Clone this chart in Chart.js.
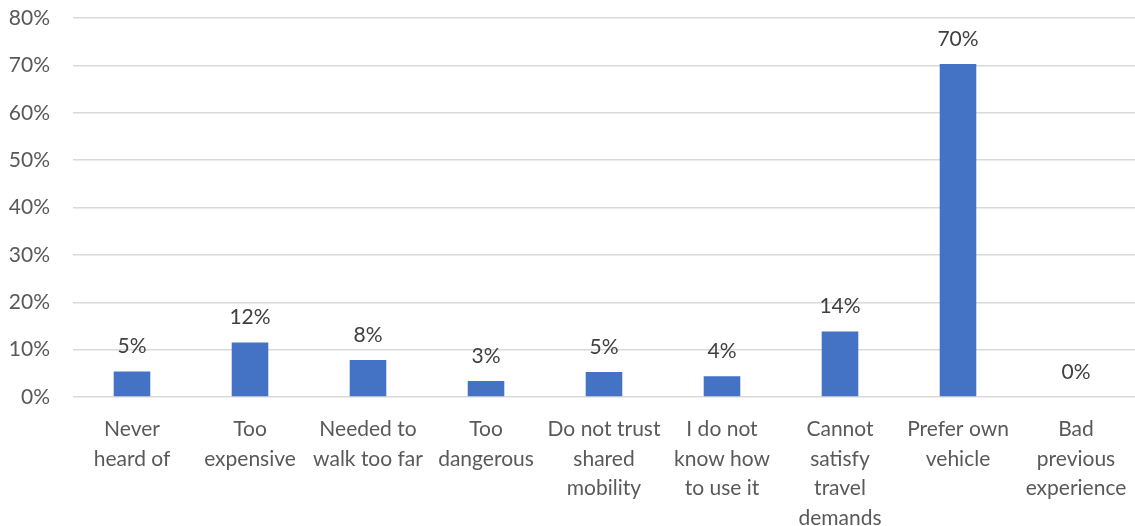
<!DOCTYPE html>
<html>
<head>
<meta charset="utf-8">
<script src="https://cdn.jsdelivr.net/npm/chart.js@4"></script>
<style>
  html, body { margin: 0; padding: 0; background: #fff; }
  #wrap { width: 1135px; height: 526px; }
</style>
</head>
<body>
<div id="wrap"><canvas id="chart"></canvas></div>
<script>
// reasons for not using shared mobility (share of respondents, %)
const categories = [
  ['Never', 'heard of'],
  ['Too', 'expensive'],
  ['Needed to', 'walk too far'],
  ['Too', 'dangerous'],
  ['Do not trust', 'shared', 'mobility'],
  ['I do not', 'know how', 'to use it'],
  ['Cannot', 'satisfy', 'travel', 'demands'],
  ['Prefer own', 'vehicle'],
  ['Bad', 'previous', 'experience']
];
const shares = [5.4, 11.5, 7.8, 3.4, 5.3, 4.4, 13.8, 70.3, 0];
const yTicks = [0, 10, 20, 30, 40, 50, 60, 70, 80];

const FONT = 'Lato, "Open Sans", sans-serif';

// value labels above each bar
const barLabels = {
  id: 'barLabels',
  afterDatasetsDraw(chart) {
    const { ctx } = chart;
    const meta = chart.getDatasetMeta(0);
    ctx.save();
    ctx.font = '21px ' + FONT;
    ctx.fillStyle = '#404040';
    ctx.textAlign = 'center';
    ctx.textBaseline = 'middle';
    meta.data.forEach((bar, i) => {
      ctx.fillText(Math.round(shares[i]) + '%', bar.x, bar.y - 25);
    });
    ctx.restore();
  }
};

new Chart(document.getElementById('chart'), {
  type: 'bar',
  data: {
    labels: categories,
    datasets: [{
      data: shares,
      backgroundColor: '#4472C4',
      borderWidth: 0,
      categoryPercentage: 1,
      barPercentage: 0.31
    }]
  },
  options: {
    responsive: true,
    maintainAspectRatio: false,
    animation: false,
    layout: { padding: { top: 18, left: 0, right: 0, bottom: 0 } },
    plugins: { legend: { display: false }, tooltip: { enabled: false } },
    scales: {
      x: {
        grid: { display: false },
        border: { display: false },
        afterFit(axis) {
          axis.height = 129;
          axis.paddingLeft = 0;
          axis.paddingRight = 0;
        },
        ticks: {
          color: '#595959',
          font: { family: FONT, size: 21, lineHeight: 1.4 },
          maxRotation: 0,
          autoSkip: false,
          padding: 10
        }
      },
      y: {
        min: 0,
        max: 80,
        afterBuildTicks(axis) { axis.ticks = yTicks.map(v => ({ value: v })); },
        afterFit(axis) {
          axis.width = 73;
          axis.paddingTop = 0;
          axis.paddingBottom = 0;
        },
        grid: { color: '#d9d9d9', lineWidth: 1.5, drawTicks: false },
        border: { display: false },
        ticks: {
          color: '#595959',
          font: { family: FONT, size: 21 },
          padding: 23,
          callback: v => v + '%'
        }
      }
    }
  },
  plugins: [barLabels]
});
</script>
</body>
</html>
